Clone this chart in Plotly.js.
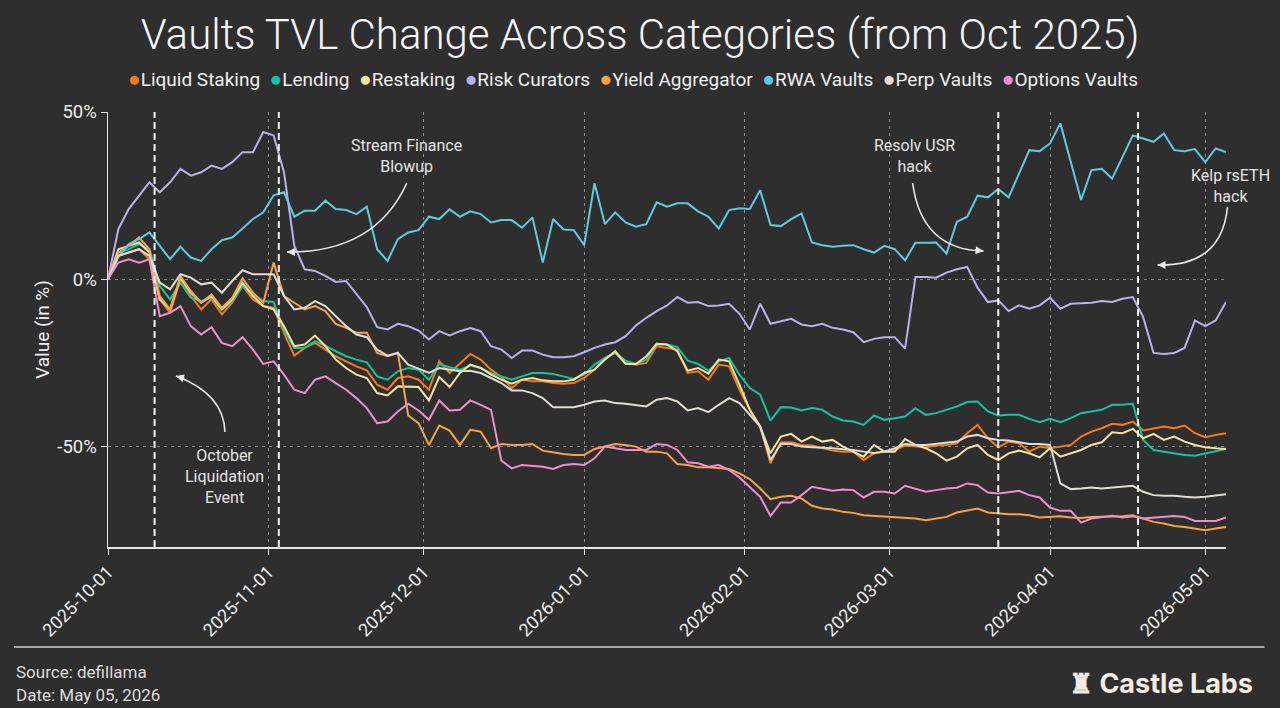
<!DOCTYPE html>
<html>
<head>
<meta charset="utf-8">
<script src="https://cdn.plot.ly/plotly-3.0.1.min.js"></script>
<style>
  html, body { margin: 0; padding: 0; background: #2e2e2e; }
  #chart { width: 1280px; height: 708px; }
</style>
</head>
<body>
<div id="chart"></div>
<script>
// ---------- DATA (one point every 2 days from 2025-10-01) ----------
const startDate = '2025-10-01';
const stepDays = 2;

const seriesNames = ['Liquid Staking', 'Lending', 'Restaking', 'Risk Curators', 'Yield Aggregator', 'RWA Vaults', 'Perp Vaults', 'Options Vaults'];
const seriesColors = ['#f27a20', '#17c39c', '#f6e2a0', '#b9b0ee', '#f5a24b', '#5fcadf', '#e2ddd4', '#ee8fc9'];

const liquidStaking = [
  0, 7, 8, 9, 6, -6, -10, 0, -5, -9,
  -6, -10.5, -7, -2, -6, -8, -8.5, -16, -22.8, -20.5,
  -19, -21, -23, -24.5, -26, -27.2, -31.5, -33, -29.5, -29,
  -30, -33, -24.5, -28, -25, -22.3, -24, -27, -29.2, -32.5,
  -30, -30.5, -30.5, -31, -31.2, -31, -29.5, -27, -23.5, -22,
  -25, -25.5, -25, -20, -20.5, -21, -28, -27.5, -30, -25.5,
  -26, -33, -39, -44, -55, -48.7, -48.7, -49.5, -49.7, -50.5,
  -51.2, -51.5, -51.5, -54, -52, -51.5, -51, -49.7, -50, -50.2,
  -49.7, -49.5, -49, -46, -43.5, -47.5, -50.2, -48.5, -49, -51.5,
  -50, -50.5, -50, -49.5, -47, -45.5, -44.5, -43.2, -43.5, -42.5,
  -45.2, -44.5, -44, -44.5, -43.7, -46, -47.2, -46.5, -46
];

const lending = [
  0, 8, 9, 10.5, 9, -2, -6, -1, -5.5, -6.5,
  -5.5, -9, -6.5, -2, -4.5, -6.5, -6.8, -15, -20.5, -20.5,
  -18.5, -19.8, -21.5, -23, -24, -24.8, -29, -30, -27.5, -26.5,
  -27, -30, -25.3, -26.3, -27, -25.8, -26.5, -28, -29, -30,
  -29, -28, -28, -28.3, -29, -29.8, -28.5, -25.5, -23.5, -22,
  -24.3, -25.3, -24, -19.3, -19.5, -20.3, -24.3, -25.3, -27.3, -24.5,
  -23.5, -28.5, -32.5, -34.5, -42.2, -38.2, -38.3, -39.2, -38.5, -39,
  -41, -42.2, -42.5, -43.5, -40.7, -42, -41.5, -41, -38.5, -40.5,
  -40, -39, -38, -36.7, -36.5, -39.5, -40.7, -40.5, -40.5, -41.7,
  -42.7, -41.7, -42.7, -41.5, -40, -39.5, -39, -37.5, -37.5, -37.2,
  -48, -51, -51.5, -52, -52.5, -52.7, -52, -51.2, -50.7
];

const restaking = [
  0, 9, 10, 11, 8, -6, -9, 0.5, -4, -7,
  -5, -9, -6, -1, -5, -8, -9, -14, -20, -19.5,
  -16.8, -20, -24, -26.5, -28.5, -29.5, -34, -34.7, -32, -32,
  -32.2, -36.2, -29.2, -32.2, -28, -25.5, -26.5, -28.5, -30, -31.2,
  -30, -29.5, -30.2, -30.5, -30.5, -30, -28, -27, -24, -21.5,
  -25.3, -25.3, -23, -19.3, -19.5, -21.5, -27.3, -26.5, -28.2, -24,
  -24.5, -31.5, -39, -44, -52, -47, -46.2, -48.5, -47, -48.5,
  -48, -50, -51.5, -53, -49.5, -51.5, -51.5, -47.7, -49.5, -50.5,
  -52, -54.2, -53, -50.5, -49.5, -52.5, -54, -52, -51.2, -52,
  -53.2, -50.5, -53, -52, -51, -49.5, -48.7, -45.7, -46, -44.7,
  -47.5, -46.2, -48, -47, -48.5, -49.5, -50.2, -50.5, -50.7
];

const riskCurators = [
  0, 15, 21, 25, 29, 26, 29, 33, 31, 32,
  34, 33, 35, 38, 38, 44, 43, 32, 10, 3,
  2.5, 1, -0.8, -0.5, -4.3, -8.3, -14.3, -15, -13.3, -14,
  -15.3, -18, -15.5, -16.8, -15.5, -14.6, -15.5, -20, -21, -23.5,
  -21.3, -21.3, -22.5, -23.3, -23.3, -23, -21.8, -20.5, -19.5, -18.8,
  -17, -13.8, -11.5, -9.5, -7.8, -5.3, -7, -6.8, -8, -7.8,
  -7.3, -10.3, -15, -7.3, -13.3, -12.5, -11.8, -13.5, -14, -13.3,
  -14.5, -15, -15.8, -18.8, -17.8, -17.3, -17.3, -20.7, 0.7, 0.7,
  0.5, 2, 3, 3.7, -2.5, -6.8, -6.3, -9.5, -7.8, -8.8,
  -7.8, -5.5, -8.8, -7.3, -7.2, -7, -6.5, -6.8, -5.8, -5.3,
  -11.3, -22, -22.3, -22, -20.5, -12.3, -14, -12.3, -6.8
];

const yieldAggregator = [
  0, 8, 10, 12.5, 9, -5, -9, 1, -3.5, -7,
  -4.5, -8.5, -5.5, 0.3, -4, -7, 5, -5, -7, -9,
  -8, -9.5, -13.3, -14.5, -16, -16, -22, -23, -22, -40.7,
  -43, -49.5, -43.7, -45.2, -49.5, -45, -45.5, -50.5, -49.2, -49.5,
  -49.5, -49.2, -51.2, -51.8, -52.2, -52.5, -52.5, -50.7, -50, -49.2,
  -49.5, -50, -51.5, -51.5, -52, -55.2, -55.5, -56.2, -56.2, -56.5,
  -56.7, -58, -59.7, -62.5, -65.7, -65, -64.7, -65.5, -67.7, -68.5,
  -68.8, -69.5, -69.8, -70.5, -70.7, -71, -71.2, -71.2, -71.5, -72,
  -71.5, -71, -69.7, -69, -68.5, -69.7, -70, -70.2, -70.2, -70.5,
  -71.2, -71, -70.8, -71.2, -71.3, -71, -71, -70.8, -70.8, -70.5,
  -71.5, -72.5, -73, -73.7, -74, -74.5, -75, -74.5, -74
];

const rwaVaults = [
  0, 6.7, 10.5, 12, 14, 10, 6, 9.7, 6.5, 5.5,
  9, 11.7, 12.5, 15.2, 18, 20, 25.1, 26, 18.7, 20.5,
  20.5, 23.5, 21, 20.7, 19.5, 21.7, 9, 5.5, 12, 14,
  14.7, 18.7, 18, 20.9, 18.7, 20.3, 19.5, 17, 17.7, 17.7,
  15.4, 18.5, 5, 18, 14.9, 14.7, 10.2, 28.7, 16.5, 20,
  17, 15.7, 16.5, 23, 21.7, 22.7, 22.7, 20.3, 18.7, 15.2,
  20.7, 21.2, 21, 26.6, 16.2, 15.9, 18, 19.7, 11, 10.2,
  9.7, 10, 10.2, 9, 8, 10, 9, 5.7, 10.9, 10.9,
  11, 7.7, 17.2, 18.7, 25, 24.5, 27, 24.5, 31.6, 38.6,
  38.3, 40.6, 46.6, 35.5, 23.7, 32.6, 33, 30.1, 36.6, 43,
  42.1, 41.1, 43.6, 38.6, 38.3, 38.9, 35, 39.1, 38
];

const perpVaults = [
  0, 7, 8, 9, 7, -1, -3, 1.5, 0.5, -1.5,
  -1, -4, -0.5, 2.7, 1.5, 1.5, 1.5, -5, -9, -8.5,
  -6.5, -8, -11, -14, -16.5, -17.3, -21, -22.8, -22, -25.5,
  -26.7, -28, -26.5, -27, -27.5, -27.3, -28, -29.5, -31, -33.2,
  -33.2, -34, -35.5, -38.2, -38.2, -38.2, -37.5, -36.5, -36.2, -37,
  -37.2, -37.5, -38, -36, -35.5, -36.5, -39.2, -38.5, -39.7, -37.5,
  -35.5, -37, -40.5, -44, -54, -49.2, -49.2, -50, -50.2, -50.3,
  -50.5, -50.8, -51, -51.5, -51.9, -51.5, -50.5, -49.2, -49.5, -49.5,
  -49.2, -49, -48.5, -47, -46.5, -47.5, -48, -48.2, -48.8, -49.2,
  -49.2, -49.5, -61, -62.7, -62.5, -62.2, -62.5, -62.3, -62, -61.7,
  -63.5, -64.5, -64.7, -64.7, -65, -65.2, -65, -64.5, -64.2
];

const optionsVaults = [
  0, 5, 6, 5, 6, -11, -10, -8, -14, -16.5,
  -14.3, -19, -20, -17.3, -21, -25.3, -24.5, -28.5, -33, -34,
  -30, -29, -31, -33, -35.5, -38.5, -43, -42.5, -39.5, -37.2,
  -39.2, -42, -36.2, -39.2, -39, -36.2, -37.5, -39, -54.2, -56.5,
  -55.5, -55.7, -56, -56.7, -55.5, -55.2, -55.5, -53.5, -50, -50.5,
  -51, -51, -51, -49.2, -49.5, -51, -54.7, -55, -56, -55.5,
  -57, -59.2, -62, -65, -70.7, -66.7, -66.7, -64.5, -62, -62.5,
  -63.2, -62.8, -63, -65.2, -63.5, -63.5, -64, -61.7, -62.5, -63.5,
  -63, -62.5, -62.3, -61, -61.5, -63.7, -64, -63.5, -63.2, -64.5,
  -65.2, -68.2, -69.2, -69.2, -72.7, -71.5, -71.2, -70.7, -71.2, -70.8,
  -71.5, -71.2, -71, -70.7, -71, -72.2, -72.2, -72.2, -71.2
];

const monthTicks = ['2025-10-01', '2025-11-01', '2025-12-01', '2026-01-01', '2026-02-01', '2026-03-01', '2026-04-01', '2026-05-01'];
const yTickValues = [-50, 0, 50];
const yTickLabels = ['-50%', '0%', '50%'];
const eventDates = ['2025-10-10', '2025-11-03', '2026-03-22', '2026-04-18'];
const eventLabels = ['October<br>Liquidation<br>Event', 'Stream Finance<br>Blowup', 'Resolv USR<br>hack', 'Kelp rsETH<br>hack'];

// ---------- BUILD ----------
const allSeries = [liquidStaking, lending, restaking, riskCurators, yieldAggregator, rwaVaults, perpVaults, optionsVaults];
const t0 = Date.parse(startDate + 'T00:00:00Z');
const dates = liquidStaking.map((_, i) => new Date(t0 + i * stepDays * 86400000).toISOString().slice(0, 10));

const traces = allSeries.map((vals, i) => ({
  type: 'scatter',
  mode: 'lines',
  name: seriesNames[i],
  x: dates,
  y: vals,
  line: { color: seriesColors[i], width: 2 },
  hoverinfo: 'skip',
  showlegend: false
}));

// plot area in pixels (for placing decorations)
const PL = 108, PR = 1226.5, PT = 112, PB = 547;
const px = x => (x - PL) / (PR - PL);
const py = y => (PB - y) / (PB - PT);

const textColor = '#e4e4e4';
const arrowColor = '#e8e8e8';

const shapes = eventDates.map(d => ({
  type: 'line', xref: 'x', yref: 'paper', x0: d, x1: d, y0: 0, y1: 1,
  line: { color: '#f2f2f2', width: 2, dash: '7px,4px' }, layer: 'above'
}));

function curve(p0, c, p1) {
  return {
    type: 'path', xref: 'paper', yref: 'paper',
    path: `M ${px(p0[0])},${py(p0[1])} Q ${px(c[0])},${py(c[1])} ${px(p1[0])},${py(p1[1])}`,
    line: { color: arrowColor, width: 1.6 }, layer: 'above'
  };
}
// curved arrows (October, Stream, Resolv, Kelp)
const arrowCurves = [
  [[225, 432], [224, 394], [176, 376]],
  [[407, 183], [375, 253], [287, 252]],
  [[913, 183], [922, 250], [984, 251]],
  [[1228, 207], [1222, 267], [1158, 265]]
];
arrowCurves.forEach(a => shapes.push(curve(a[0], a[1], a[2])));

// footer separator
shapes.push({
  type: 'line', xref: 'paper', yref: 'paper',
  x0: px(14), x1: px(1265), y0: py(647), y1: py(647),
  line: { color: '#cfcfcf', width: 1.5 }
});

const annotations = [];
// event labels
const labelPos = [[225, 476], [407, 156], [915, 156], [1231, 186]];
eventLabels.forEach((t, i) => annotations.push({
  xref: 'paper', yref: 'paper', x: px(labelPos[i][0]), y: py(labelPos[i][1]),
  xanchor: 'center', yanchor: 'middle', text: t, showarrow: false,
  font: { size: 16, color: textColor, family: 'Roboto' }
}));
// arrow heads
const heads = [[176, 376, 10, 3], [287, 252, 10, 0], [984, 251, -10, -1], [1158, 265, 10, 0]];
heads.forEach(h => annotations.push({
  xref: 'paper', yref: 'paper', x: px(h[0]), y: py(h[1]), ax: h[2], ay: h[3],
  text: '', showarrow: true, arrowhead: 2, arrowsize: 1, arrowwidth: 1.6, arrowcolor: arrowColor
}));
// legend row (coloured dots + names)
const legendText = seriesNames.map((n, i) => `<span style="color:${seriesColors[i]};font-size:21px">●</span>${n}`).join('&nbsp; ');
annotations.push({
  xref: 'paper', yref: 'paper', x: px(633), y: py(79), xanchor: 'center', yanchor: 'middle',
  text: legendText, showarrow: false, font: { size: 19, color: '#f0f0f0', family: 'Roboto' }
});
// footer
annotations.push({
  xref: 'paper', yref: 'paper', x: px(14), y: py(672), xanchor: 'left', yanchor: 'middle',
  text: 'Source: defillama', showarrow: false, font: { size: 17, color: '#dcdcdc', family: 'Roboto' }
});
annotations.push({
  xref: 'paper', yref: 'paper', x: px(14), y: py(695), xanchor: 'left', yanchor: 'middle',
  text: 'Date: May 05, 2026', showarrow: false, font: { size: 17, color: '#dcdcdc', family: 'Roboto' }
});
annotations.push({
  xref: 'paper', yref: 'paper', x: px(1256), y: py(683), xanchor: 'right', yanchor: 'middle',
  text: '<b>♜ Castle Labs</b>', showarrow: false, font: { size: 27, color: '#f1ede4', family: 'Inter' }
});

const layout = {
  width: 1280, height: 708,
  paper_bgcolor: '#2e2e2e', plot_bgcolor: '#2e2e2e',
  margin: { l: PL, r: 1280 - PR, t: PT, b: 708 - PB, pad: 0 },
  font: { family: 'Roboto', color: '#eeeeee' },
  title: {
    text: 'Vaults TVL Change Across Categories (from Oct 2025)',
    font: { size: 42, color: '#f4f4f4', family: 'Roboto', weight: 300 },
    x: 0.5, xanchor: 'center', xref: 'container', y: 1 - 34 / 708, yanchor: 'middle', yref: 'container'
  },
  showlegend: false,
  hovermode: false,
  xaxis: {
    type: 'date', range: ['2025-10-01', '2026-05-05'],
    tickvals: monthTicks, tickformat: '%Y-%m-%d', tickangle: -45,
    tickfont: { size: 18, color: '#eeeeee' },
    showgrid: true, gridcolor: '#8c8c8c', gridwidth: 1, griddash: '3px,4px',
    showline: true, linecolor: '#e6e6e6', linewidth: 1.5,
    ticks: 'outside', ticklen: 6, tickcolor: '#e6e6e6', tickwidth: 1,
    zeroline: false, fixedrange: true
  },
  yaxis: {
    range: [-80, 50], tickvals: yTickValues, ticktext: yTickLabels,
    tickfont: { size: 18.5, color: '#eeeeee' },
    showgrid: true, gridcolor: '#8c8c8c', gridwidth: 1, griddash: '3px,4px',
    showline: true, linecolor: '#e6e6e6', linewidth: 1.5,
    ticks: 'outside', ticklen: 6, tickcolor: '#e6e6e6', tickwidth: 1,
    zeroline: false, fixedrange: true,
    title: { text: 'Value (in %)', font: { size: 19, color: '#eeeeee' }, standoff: 2 }
  },
  shapes: shapes,
  annotations: annotations
};

Plotly.newPlot('chart', traces, layout, { displayModeBar: false, staticPlot: true });
</script>
</body>
</html>
